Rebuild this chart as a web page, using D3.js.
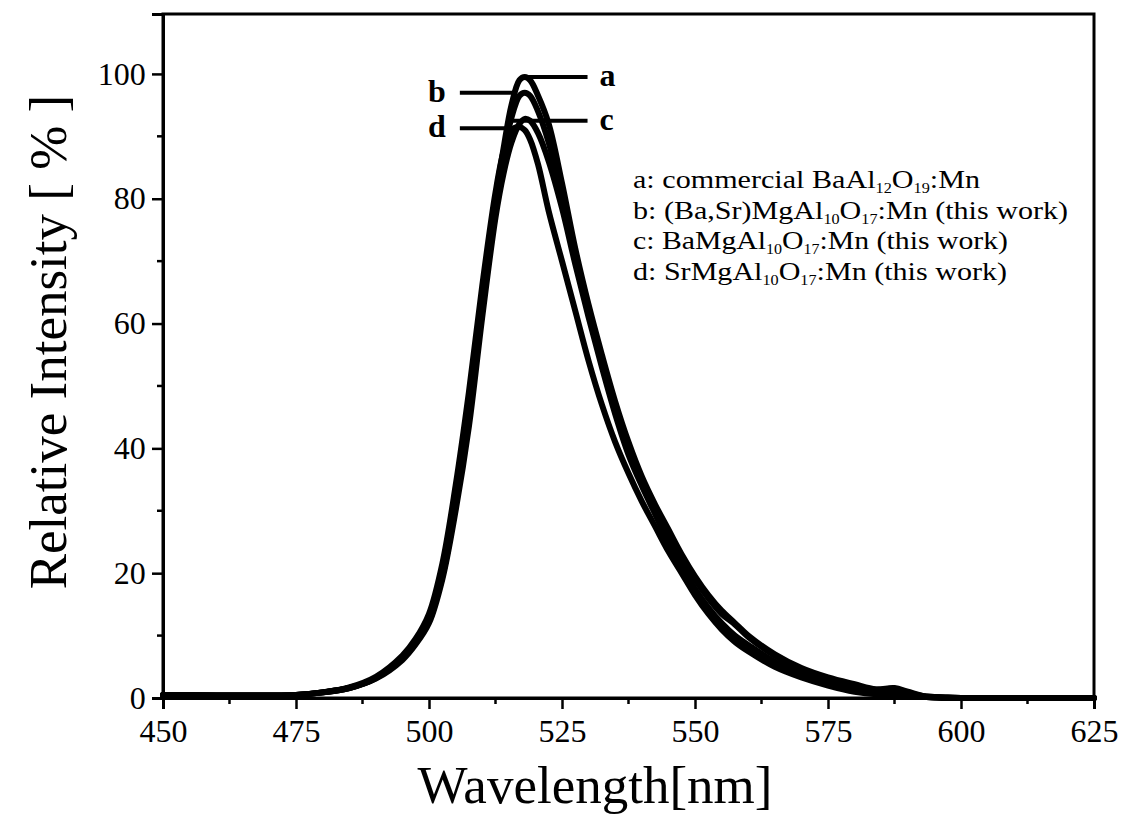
<!DOCTYPE html>
<html><head><meta charset="utf-8">
<script src="https://cdn.jsdelivr.net/npm/d3@7"></script>
<style>
html,body{margin:0;padding:0;background:#fff;}
svg{display:block;}
text{font-family:"Liberation Serif","Times New Roman",serif;fill:#000;}
</style></head>
<body>
<svg id="chart" width="1125" height="824"></svg>
<script>
// ---------- data ----------
const wavelength = [450,460,470,475,480,485,490,495,497.5,500,502.5,505,507.5,510,512.5,514,515.5,517,518,519,520.5,522.5,525,527.5,530,532.5,535,537.5,540,542.5,545,547.5,550,552.5,555,557.5,560,565,570,575,580,584,587.5,590,593,597,600,610,625];
const seriesA = [0.5,0.4,0.4,0.5,0.9,1.6,3.2,6.3,8.9,12.5,19.5,31,45,63,80,88,95,99,99.5,99,96.5,92,82.5,72,63,55,47.5,41,35.5,31,27,23,19.5,16.5,14,12,10,7,4.8,3.3,2.2,1.4,1.6,1.0,0.3,0.1,0,0,0];
const seriesB = [0.5,0.4,0.4,0.5,0.9,1.6,3.2,6.3,8.9,12.5,19.5,31,45,63,79,87,93,96.5,97,96.5,94,89,80.5,71,62,54,46.5,40,35,30.5,26.5,22.5,19,16,13.5,11.8,9.8,6.8,4.6,3.1,2.0,1.3,1.5,0.9,0.3,0.1,0,0,0];
const seriesC = [0.5,0.4,0.4,0.5,0.9,1.6,3.1,6.1,8.6,12,19,30,43.5,61,77,84,89,92,92.8,92.5,90.5,86,78.5,69.5,61,53,45.5,39,34,29.5,25,21,17.5,14.5,12,10,8.5,5.8,3.9,2.6,1.6,1.0,1.1,0.7,0.2,0.05,0,0,0];
const seriesD = [0.5,0.4,0.4,0.5,0.9,1.7,3.4,6.8,9.5,13.5,21.5,34,49,66,81,87.5,91,91.5,91,89.5,85.5,78,70,62,54,47,41,36,31.5,27.5,23.5,20,16.5,13.5,11,9,7.5,5,3.3,2.0,1.0,0.6,0.6,0.4,0.2,0,0,0,0];
const seriesNames = ["a","b","c","d"];
const legendText = [
  [["a: commercial BaAl",""],["12","sub"],["O",""],["19","sub"],[":Mn",""]],
  [["b: (Ba,Sr)MgAl",""],["10","sub"],["O",""],["17","sub"],[":Mn (this work)",""]],
  [["c: BaMgAl",""],["10","sub"],["O",""],["17","sub"],[":Mn (this work)",""]],
  [["d: SrMgAl",""],["10","sub"],["O",""],["17","sub"],[":Mn (this work)",""]]
];
// peak label leader lines (wavelength from, wavelength to, intensity, side)
const leaderFrom = [517.6, 505.8, 515.7, 505.8];
const leaderTo   = [529.8, 516.5, 529.8, 514.5];
const leaderY    = [99.5, 97, 92.5, 91.3];
const leaderSide = ["right","left","right","left"];
const xTicks = [450,475,500,525,550,575,600,625];
const xMinor = [462.5,487.5,512.5,537.5,562.5,587.5,612.5];
const yTicks = [0,20,40,60,80,100];
const yMinor = [10,30,50,70,90];
const xTitle = "Wavelength[nm]";
const yTitle = "Relative Intensity [ % ]";

// ---------- layout ----------
const svg = d3.select("#chart");
const L = 163, R = 1094, T = 14, B = 698;
const x = d3.scaleLinear().domain([450,625]).range([L,R]);
const y = d3.scaleLinear().domain([0,109.6]).range([B,T]);

// frame
svg.append("rect").attr("x",L).attr("y",T).attr("width",R-L).attr("height",B-T)
  .attr("fill","none").attr("stroke","#000").attr("stroke-width",3);

// x axis
const gx = svg.append("g").attr("transform",`translate(0,${B})`);
gx.call(d3.axisBottom(x).tickValues(xTicks).tickSize(11).tickFormat(d3.format("d")));
gx.selectAll(".tick line").attr("stroke-width",2.5);
gx.selectAll(".tick text").attr("font-size",32).attr("dy","0.95em").attr("font-family","Liberation Serif");
gx.select(".domain").attr("stroke-width",3);
gx.selectAll(".minor").data(xMinor).enter().append("line")
  .attr("x1",d=>x(d)).attr("x2",d=>x(d)).attr("y1",0).attr("y2",6)
  .attr("stroke","#000").attr("stroke-width",2.5);

// y axis
const gy = svg.append("g").attr("transform",`translate(${L},0)`);
gy.call(d3.axisLeft(y).tickValues(yTicks).tickSize(11).tickFormat(d3.format("d")));
gy.selectAll(".tick line").attr("stroke-width",2.5);
gy.selectAll(".tick text").attr("font-size",32).attr("dx","-0.1em").attr("font-family","Liberation Serif");
gy.select(".domain").attr("stroke-width",3);
gy.selectAll(".minor").data(yMinor).enter().append("line")
  .attr("x1",-6).attr("x2",0).attr("y1",d=>y(d)).attr("y2",d=>y(d))
  .attr("stroke","#000").attr("stroke-width",2.5);

// titles
svg.append("text").attr("x",595).attr("y",803).attr("text-anchor","middle")
  .attr("font-size",53).text(xTitle);
svg.append("text").attr("transform",`translate(66,342) rotate(-90)`)
  .attr("text-anchor","middle").attr("font-size",53).text(yTitle);

// curves
const allSeries = [seriesA,seriesB,seriesC,seriesD];
const line = d3.line().x((d,i)=>x(wavelength[i])).y(d=>y(d)).curve(d3.curveCatmullRom.alpha(0.5));
svg.append("g").selectAll("path").data(allSeries).enter().append("path")
  .attr("d",d=>line(d)).attr("fill","none").attr("stroke","#000").attr("stroke-width",6)
  .attr("stroke-linejoin","round").attr("stroke-linecap","round");

// leader lines and letters
seriesNames.forEach((n,i)=>{
  svg.append("line").attr("x1",x(leaderFrom[i])).attr("x2",x(leaderTo[i]))
    .attr("y1",y(leaderY[i])).attr("y2",y(leaderY[i]))
    .attr("stroke","#000").attr("stroke-width",4);
  const right = leaderSide[i]==="right";
  svg.append("text")
    .attr("x", right ? x(leaderTo[i])+12 : x(leaderFrom[i])-14)
    .attr("y", y(leaderY[i])+9)
    .attr("text-anchor", right ? "start":"end")
    .attr("font-size",32).attr("font-weight","bold").text(n);
});

// legend
const legendWidths = [347, 435, 375, 374];
const lg = svg.append("g");
legendText.forEach((parts,i)=>{
  const t = lg.append("text").attr("x",633).attr("y",188+i*30.5).attr("font-size",26)
    .attr("textLength", legendWidths[i]).attr("lengthAdjust","spacingAndGlyphs");
  parts.forEach(p=>{
    const ts = t.append("tspan").text(p[0]);
    if(p[1]==="sub") ts.attr("font-size",14).attr("baseline-shift","-5");
  });
});
</script>
</body></html>
